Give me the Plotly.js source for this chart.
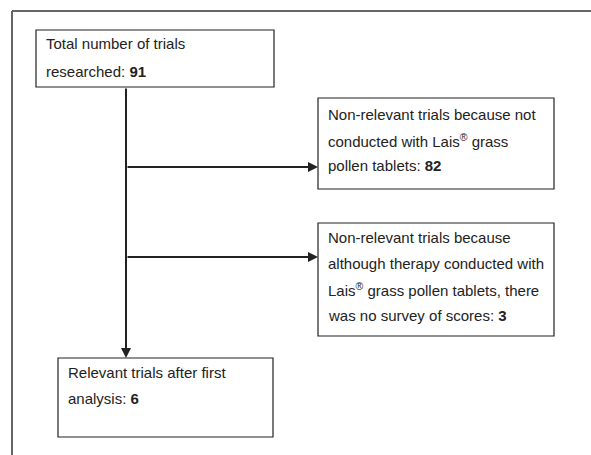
<!DOCTYPE html>
<html>
<head>
<meta charset="utf-8">
<script src="https://cdn.plot.ly/plotly-3.0.1.min.js"></script>
<style>html,body{margin:0;padding:0;background:#fff;}#chart{width:591px;height:455px;}</style>
</head>
<body>
<div id="chart"></div>
<script>
// ---- data ----
const stageNames = ["total", "notLais", "noScores", "relevant"];
const stageCounts = [91, 82, 3, 6];
const stageLines = [
  ["Total number of trials", "researched: "],
  ["Non-relevant trials because not", "conducted with Lais<sup>®</sup> grass", "pollen tablets: "],
  ["Non-relevant trials because", "although therapy conducted with", "Lais<sup>®</sup> grass pollen tablets, there", "was no survey of scores: "],
  ["Relevant trials after first", "analysis: "]
];

// ---- layout (positions in pixel-like axis units) ----
const boxes = [
  {x0: 36, x1: 274, y0: 30, y1: 87, lineY: [43, 71], tx: 44},
  {x0: 318, x1: 554, y0: 98, y1: 189, lineY: [114, 140, 165], tx: 326},
  {x0: 318, x1: 554, y0: 223, y1: 336, lineY: [237, 263, 289, 315], tx: 326},
  {x0: 58, x1: 273, y0: 358, y1: 437, lineY: [372, 398], tx: 66}
];
const trunkX = 126;
const branchY = [167, 257];

const ink = "#222222";
const shapes = [];
const annotations = [];

// outer frame (cropped)
shapes.push({type: "line", x0: 12, x1: 591, y0: 11, y1: 11, line: {color: "#666666", width: 2}});
shapes.push({type: "line", x0: 12, x1: 12, y0: 11, y1: 455, line: {color: "#666666", width: 2}});

boxes.forEach((b, i) => {
  shapes.push({type: "rect", x0: b.x0, x1: b.x1, y0: b.y0, y1: b.y1,
    line: {color: ink, width: 1.2}, fillcolor: "rgba(0,0,0,0)"});
  const lines = stageLines[i];
  lines.forEach((t, j) => {
    let txt = t;
    if (j === lines.length - 1) txt = t + "<b>" + stageCounts[i] + "</b>";
    annotations.push({x: b.tx, y: b.lineY[j], text: txt, showarrow: false,
      xanchor: "left", yanchor: "middle", xref: "x", yref: "y",
      font: {family: "Liberation Sans, Arial, sans-serif", size: 15, color: ink}});
  });
});

// trunk arrow to final box
annotations.push({x: trunkX, y: boxes[3].y0, ax: trunkX, ay: boxes[0].y1,
  xref: "x", yref: "y", axref: "x", ayref: "y", showarrow: true, text: "",
  arrowhead: 2, arrowsize: 1, arrowwidth: 2, arrowcolor: ink, standoff: 0});
// branch arrows
branchY.forEach((y, k) => {
  annotations.push({x: boxes[k + 1].x0, y: y, ax: trunkX, ay: y,
    xref: "x", yref: "y", axref: "x", ayref: "y", showarrow: true, text: "",
    arrowhead: 2, arrowsize: 1, arrowwidth: 2, arrowcolor: ink, standoff: 0});
});

const layout = {
  width: 591, height: 455,
  margin: {l: 0, r: 0, t: 0, b: 0},
  paper_bgcolor: "#ffffff", plot_bgcolor: "#ffffff",
  xaxis: {range: [0, 591], visible: false, fixedrange: true},
  yaxis: {range: [455, 0], visible: false, fixedrange: true},
  showlegend: false,
  shapes: shapes,
  annotations: annotations
};

Plotly.newPlot("chart", [{x: [], y: [], type: "scatter", mode: "markers"}], layout, {displayModeBar: false, staticPlot: true});
</script>
</body>
</html>
